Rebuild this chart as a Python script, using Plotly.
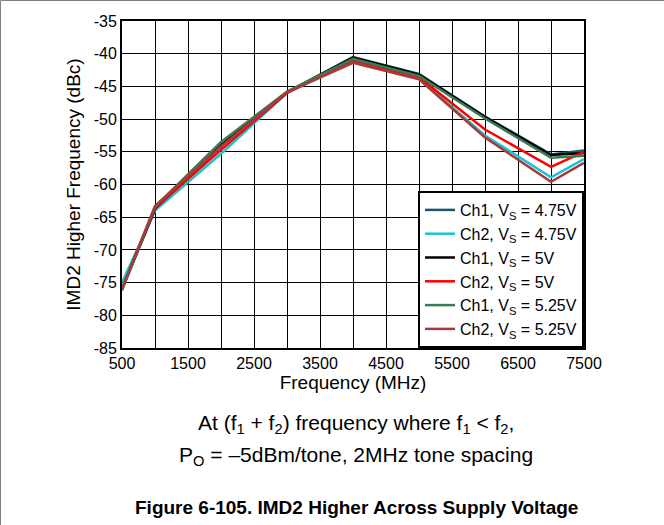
import plotly.graph_objects as go

freq = [500, 1000, 2000, 3000, 4000, 5000, 6000, 7000, 7500]

ch1_475 = [-75.9, -63.9, -54.1, -45.9, -40.5, -43.1, -49.6, -55.4, -54.8]
ch2_475 = [-75.0, -64.0, -55.3, -46.0, -41.2, -43.8, -52.5, -58.9, -56.1]
ch1_500 = [-76.0, -63.7, -54.0, -45.9, -40.6, -43.2, -49.7, -55.5, -55.2]
ch2_500 = [-76.0, -63.6, -54.7, -46.0, -41.0, -43.6, -51.6, -57.3, -55.0]
ch1_525 = [-76.2, -63.4, -53.5, -45.8, -40.8, -43.4, -49.9, -55.9, -55.6]
ch2_525 = [-75.9, -63.3, -54.2, -45.9, -41.4, -43.9, -52.8, -59.6, -56.7]

y_ticks = [-85, -80, -75, -70, -65, -60, -55, -50, -45, -40, -35]
y_labels = [str(v) for v in y_ticks]

series = [
    ("Ch1, V<sub>S</sub> = 4.75V", ch1_475, "#1b5a6b"),
    ("Ch2, V<sub>S</sub> = 4.75V", ch2_475, "#19c3d6"),
    ("Ch1, V<sub>S</sub> = 5V", ch1_500, "#000000"),
    ("Ch2, V<sub>S</sub> = 5V", ch2_500, "#ff0000"),
    ("Ch1, V<sub>S</sub> = 5.25V", ch1_525, "#3b7a55"),
    ("Ch2, V<sub>S</sub> = 5.25V", ch2_525, "#a83a3a"),
]

W, H = 664, 525
ml, mr, mt, mb = 122, 80, 21, 177
pw, ph = W - ml - mr, H - mt - mb

fig = go.Figure()
for name, ys, color in series:
    fig.add_trace(go.Scatter(x=freq, y=ys, mode="lines", name=name,
                             line=dict(color=color, width=2.5)))

fig.update_layout(
    width=W, height=H,
    margin=dict(l=ml, r=mr, t=mt, b=mb),
    paper_bgcolor="white", plot_bgcolor="white",
    font=dict(family="Liberation Sans, Arial", size=16, color="black"),
    legend=dict(x=1, xanchor="right", y=0, yanchor="bottom",
                bgcolor="white", bordercolor="black", borderwidth=2,
                font=dict(size=16), tracegroupgap=0, itemwidth=30),
    showlegend=True,
)

fig.update_xaxes(
    range=[500, 7500], tick0=500, dtick=1000,
    showgrid=True, gridcolor="black", gridwidth=1,
    minor=dict(dtick=500, showgrid=True, gridcolor="black", gridwidth=1),
    showline=True, linecolor="black", linewidth=2, mirror=True,
    ticks="", title=dict(text="Frequency (MHz)", standoff=2),
    zeroline=False,
)
fig.update_yaxes(
    range=[-85, -35], tickvals=y_ticks, ticktext=y_labels,
    showgrid=True, gridcolor="black", gridwidth=1,
    showline=True, linecolor="black", linewidth=2, mirror=True,
    ticks="", title=dict(text="IMD2 Higher Frequency (dBc)", standoff=8),
    zeroline=False,
)

def px(x):
    return (x - ml) / pw

def py(y):
    return (H - mb - y) / ph

fig.add_annotation(text="At (f<sub>1</sub> + f<sub>2</sub>) frequency where f<sub>1</sub> &lt; f<sub>2</sub>,",
                   x=px(356), y=py(424), xref="paper", yref="paper",
                   xanchor="center", yanchor="middle",
                   showarrow=False, font=dict(size=21))
fig.add_annotation(text="P<sub>O</sub> = –5dBm/tone, 2MHz tone spacing",
                   x=px(356), y=py(456), xref="paper", yref="paper",
                   xanchor="center", yanchor="middle",
                   showarrow=False, font=dict(size=21))
fig.add_annotation(text="<b>Figure 6-105. IMD2 Higher Across Supply Voltage</b>",
                   x=px(356), y=py(508), xref="paper", yref="paper",
                   xanchor="center", yanchor="middle",
                   showarrow=False, font=dict(size=19))

# outer frame lines (top and left)
fig.add_shape(type="line", xref="paper", yref="paper",
              x0=px(0.5), x1=px(W), y0=py(0.5), y1=py(0.5),
              line=dict(color="#808080", width=1))
fig.add_shape(type="line", xref="paper", yref="paper",
              x0=px(0.5), x1=px(0.5), y0=py(0.5), y1=py(H),
              line=dict(color="#808080", width=1))

fig.write_html("out.html", config={"displayModeBar": False},
               post_script="document.body.style.margin='0px';")
